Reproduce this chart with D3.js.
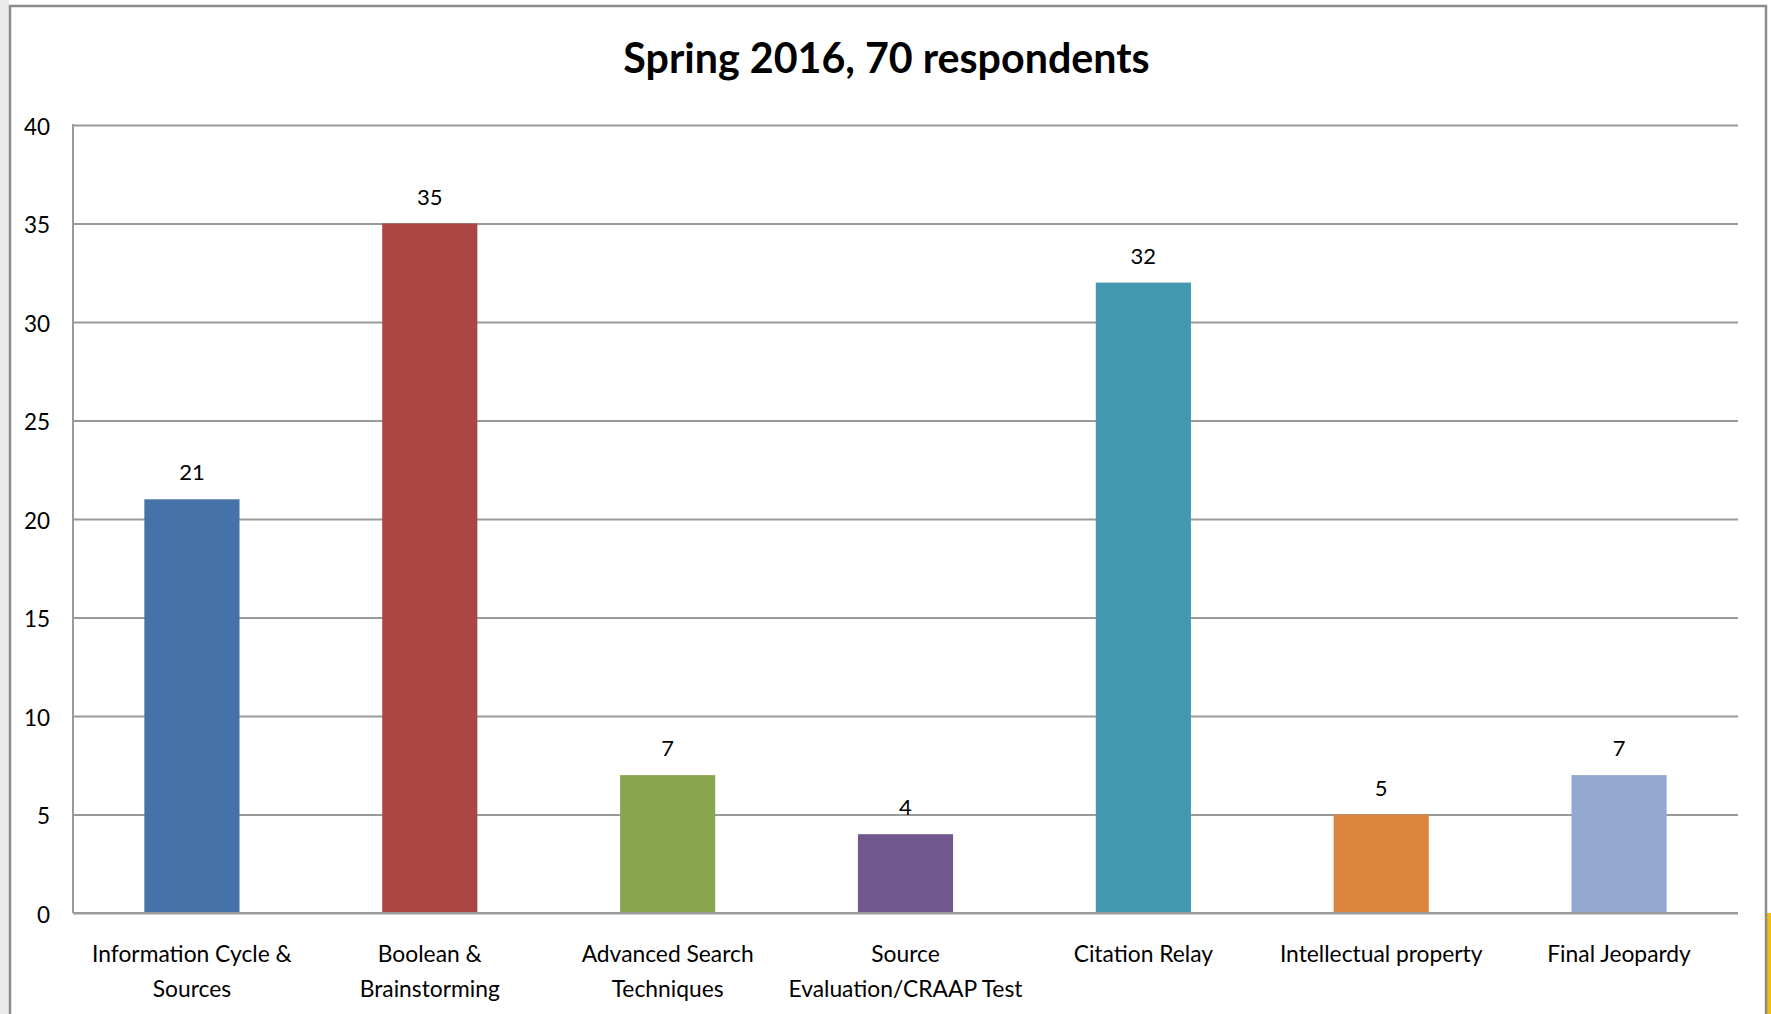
<!DOCTYPE html>
<html>
<head>
<meta charset="utf-8">
<script src="https://cdn.jsdelivr.net/npm/d3@7"></script>
<style>
  html, body { margin: 0; padding: 0; background: #ffffff; }
  svg { display: block; }
  text { font-family: Lato, "Open Sans", sans-serif; fill: #000; }
</style>
</head>
<body>
<svg id="chart" width="1771" height="1014"></svg>
<script>
// Workshop sessions and votes
const categories = [
  "Information Cycle & Sources",
  "Boolean & Brainstorming",
  "Advanced Search Techniques",
  "Source Evaluation/CRAAP Test",
  "Citation Relay",
  "Intellectual property",
  "Final Jeopardy"
];
// How each category label wraps under the axis
const categoryLines = [
  ["Information Cycle &", "Sources"],
  ["Boolean &", "Brainstorming"],
  ["Advanced Search", "Techniques"],
  ["Source", "Evaluation/CRAAP Test"],
  ["Citation Relay"],
  ["Intellectual property"],
  ["Final Jeopardy"]
];
const values = [21, 35, 7, 4, 32, 5, 7];
const barColors = ["#4572A7", "#AA4643", "#89A54E", "#71588F", "#4198AF", "#DB843D", "#93A9CF"];
const yTicks = [0, 5, 10, 15, 20, 25, 30, 35, 40];
const title = "Spring 2016, 70 respondents";

const svg = d3.select("#chart");
const W = 1771, H = 1014;

// page backdrop around the chart frame
svg.append("rect").attr("x", 0).attr("y", 0).attr("width", W).attr("height", H).attr("fill", "#ffffff");
svg.append("rect").attr("x", 0).attr("y", 0).attr("width", 9).attr("height", H).attr("fill", "#ebebeb");
svg.append("rect").attr("x", 1767).attr("y", 913).attr("width", 4).attr("height", H - 913).attr("fill", "#f5c000");

// chart frame
svg.append("rect")
  .attr("x", 10).attr("y", 6)
  .attr("width", 1756).attr("height", H + 10)
  .attr("fill", "#ffffff")
  .attr("stroke", "#8c8c8c").attr("stroke-width", 2.5);

const plot = { left: 73, right: 1738, top: 125, bottom: 913 };

const x = d3.scaleBand()
  .domain(categories)
  .range([plot.left, plot.right])
  .paddingInner(0.6)
  .paddingOuter(0.3);

const y = d3.scaleLinear()
  .domain([0, 40])
  .range([plot.bottom, plot.top]);

// horizontal gridlines
svg.append("g")
  .attr("transform", `translate(${plot.left},0)`)
  .call(d3.axisLeft(y).tickValues(yTicks).tickSize(-(plot.right - plot.left)).tickFormat(""))
  .call(g => g.select(".domain").remove())
  .call(g => g.selectAll(".tick line").attr("stroke", "#9a9a9a").attr("stroke-width", 2));

// bars
svg.append("g").selectAll("rect")
  .data(values)
  .join("rect")
  .attr("x", (d, i) => x(categories[i]))
  .attr("width", x.bandwidth())
  .attr("y", d => y(d))
  .attr("height", d => y(0) - y(d))
  .attr("fill", (d, i) => barColors[i]);

// value labels
svg.append("g").selectAll("text")
  .data(values)
  .join("text")
  .attr("x", (d, i) => x(categories[i]) + x.bandwidth() / 2)
  .attr("y", d => y(d) - 19)
  .attr("text-anchor", "middle")
  .style("font-size", "22px")
  .text(d => d);

// left axis line and baseline
svg.append("line")
  .attr("x1", plot.left).attr("x2", plot.left)
  .attr("y1", plot.top - 1).attr("y2", plot.bottom)
  .attr("stroke", "#9a9a9a").attr("stroke-width", 2);
svg.append("line")
  .attr("x1", plot.left).attr("x2", plot.right)
  .attr("y1", plot.bottom).attr("y2", plot.bottom)
  .attr("stroke", "#9a9a9a").attr("stroke-width", 2);

// y tick labels
const yAxis = svg.append("g")
  .attr("transform", `translate(${plot.left},0)`)
  .call(d3.axisLeft(y).tickValues(yTicks).tickSize(0).tickPadding(23));
yAxis.select(".domain").remove();
yAxis.selectAll(".tick text")
  .style("font-size", "22.5px")
  .style("font-family", "Lato, 'Open Sans', sans-serif")
  .attr("fill", "#000")
  .attr("dy", "0.4em");

// category labels
const xl = svg.append("g").selectAll("text")
  .data(categories)
  .join("text")
  .attr("x", d => x(d) + x.bandwidth() / 2)
  .attr("y", 962)
  .attr("text-anchor", "middle")
  .style("font-size", "22.8px");
xl.selectAll("tspan")
  .data((d, i) => categoryLines[i])
  .join("tspan")
  .attr("x", function () { return d3.select(this.parentNode).attr("x"); })
  .attr("dy", (d, j) => j === 0 ? 0 : 34.5)
  .text(d => d);

// title
svg.append("text")
  .attr("x", 886.5)
  .attr("y", 73)
  .attr("text-anchor", "middle")
  .style("font-size", "41.2px")
  .style("font-weight", 700)
  .text(title);
</script>
</body>
</html>
